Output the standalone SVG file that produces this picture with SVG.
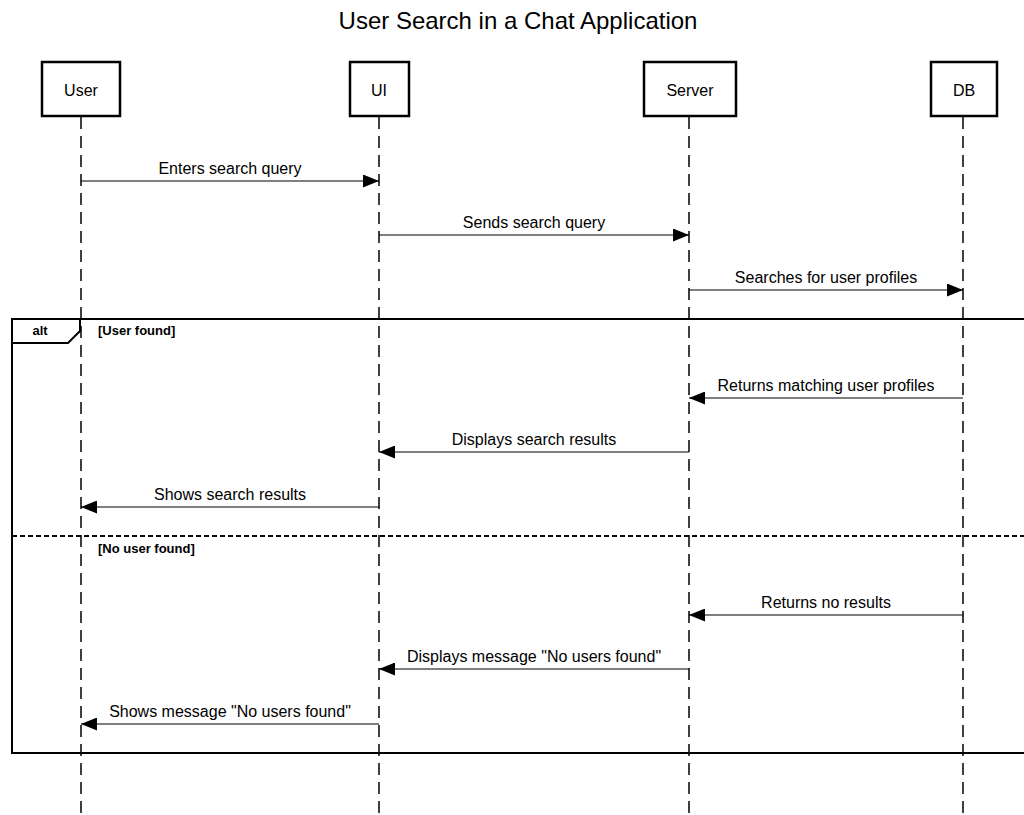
<svg xmlns="http://www.w3.org/2000/svg" width="1024" height="815" viewBox="0 0 1024 815">
  <style>
    text { font-family: "Liberation Sans", Arial, Helvetica, sans-serif; fill: #000; }
    .title { font-size: 24px; text-anchor: middle; }
    .actor rect { fill: #fff; stroke: #000; stroke-width: 2.5; }
    .actor text { font-size: 16px; text-anchor: middle; }
    .lifeline { stroke: #000; stroke-width: 1.5; stroke-dasharray: 12 7; fill: none; }
    .msg line { stroke: #000; stroke-width: 1.2; }
    .msg text { font-size: 16px; text-anchor: middle; }
    .frame { fill: none; stroke: #000; stroke-width: 2; }
    .sep { stroke: #000; stroke-width: 2; stroke-dasharray: 5 3; }
    .guard { font-size: 13px; font-weight: bold; }
  </style>
  <defs>
    <marker id="arrow" viewBox="0 0 16 13" refX="16" refY="6.5" markerWidth="16" markerHeight="13" markerUnits="userSpaceOnUse" orient="auto">
      <path d="M0,0 L16,6.5 L0,13 Z" fill="#000"/>
    </marker>
  </defs>

  <rect width="1024" height="815" fill="#fff"/>

  <text class="title" x="518" y="29">User Search in a Chat Application</text>

  <!-- lifelines -->
  <g id="lifelines">
    <line class="lifeline" x1="81" y1="117" x2="81" y2="815"/>
    <line class="lifeline" x1="379" y1="117" x2="379" y2="815"/>
    <line class="lifeline" x1="689" y1="117" x2="689" y2="815"/>
    <line class="lifeline" x1="963" y1="117" x2="963" y2="815"/>
  </g>

  <!-- participants -->
  <g id="user" class="actor">
    <rect x="42" y="62" width="78" height="54"/>
    <text x="81" y="96">User</text>
  </g>
  <g id="ui" class="actor">
    <rect x="350" y="62" width="59" height="54"/>
    <text x="379" y="96">UI</text>
  </g>
  <g id="server" class="actor">
    <rect x="644" y="62" width="92" height="54"/>
    <text x="690" y="96">Server</text>
  </g>
  <g id="db" class="actor">
    <rect x="931" y="62" width="66" height="54"/>
    <text x="964" y="96">DB</text>
  </g>

  <!-- alt fragment -->
  <g id="alt-fragment">
    <rect class="frame" x="12" y="319" width="1030" height="434"/>
    <path class="frame" d="M12,343 L68,343 L80,331 L80,319"/>
    <text class="guard" x="40" y="335" text-anchor="middle">alt</text>
    <text class="guard" x="98" y="335">[User found]</text>
    <line class="sep" x1="12" y1="536" x2="1024" y2="536"/>
    <text class="guard" x="98" y="553">[No user found]</text>
  </g>

  <!-- messages -->
  <g id="connectors" class="msg">
    <line x1="81" y1="181" x2="379" y2="181" marker-end="url(#arrow)"/>
    <text x="230" y="174">Enters search query</text>

    <line x1="379" y1="235" x2="689" y2="235" marker-end="url(#arrow)"/>
    <text x="534" y="228">Sends search query</text>

    <line x1="689" y1="290" x2="963" y2="290" marker-end="url(#arrow)"/>
    <text x="826" y="283">Searches for user profiles</text>

    <line x1="963" y1="398" x2="689" y2="398" marker-end="url(#arrow)"/>
    <text x="826" y="391">Returns matching user profiles</text>

    <line x1="689" y1="452" x2="379" y2="452" marker-end="url(#arrow)"/>
    <text x="534" y="445">Displays search results</text>

    <line x1="379" y1="507" x2="81" y2="507" marker-end="url(#arrow)"/>
    <text x="230" y="500">Shows search results</text>

    <line x1="963" y1="615" x2="689" y2="615" marker-end="url(#arrow)"/>
    <text x="826" y="608">Returns no results</text>

    <line x1="689" y1="669" x2="379" y2="669" marker-end="url(#arrow)"/>
    <text x="534" y="662">Displays message "No users found"</text>

    <line x1="379" y1="724" x2="81" y2="724" marker-end="url(#arrow)"/>
    <text x="230" y="717">Shows message "No users found"</text>
  </g>
</svg>
